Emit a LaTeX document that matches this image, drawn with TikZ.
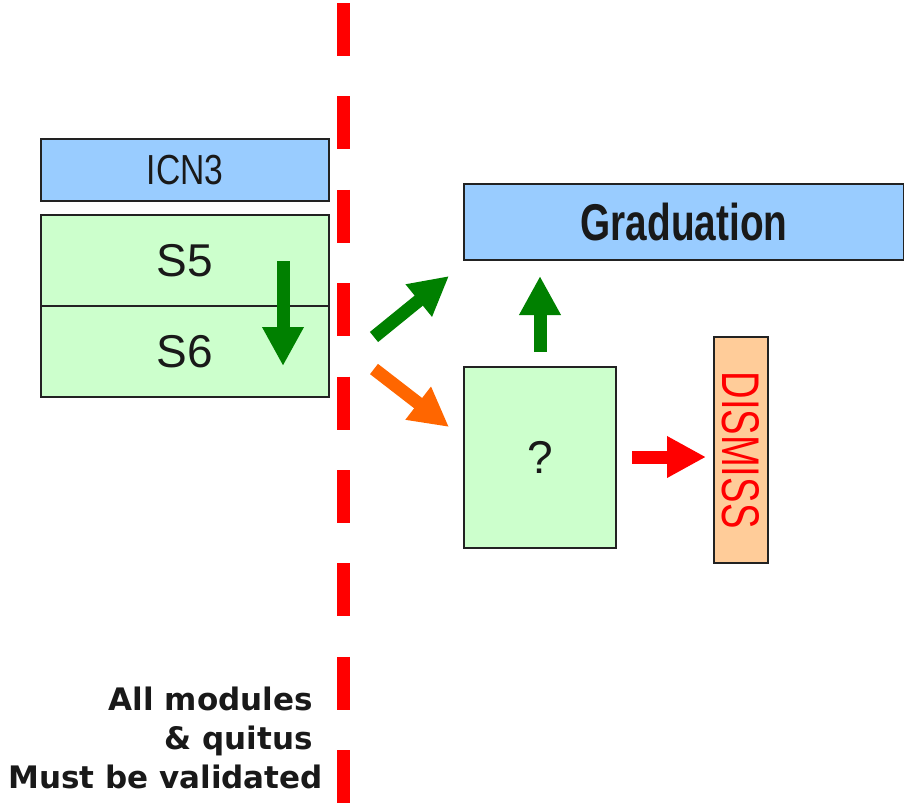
\documentclass[tikz,border=0pt]{standalone}
\usepackage{fontspec}
\usepackage{graphicx}
\setmainfont{Liberation Sans}
\newfontfamily\notefont{DejaVu Sans}
\usetikzlibrary{arrows.meta}
\definecolor{boxblue}{HTML}{99CCFF}
\definecolor{boxgreen}{HTML}{CCFFCC}
\definecolor{boxorange}{HTML}{FFCC99}
\definecolor{arrgreen}{HTML}{008000}
\definecolor{arrorange}{HTML}{FF6600}
\definecolor{arrred}{HTML}{FF0000}
\definecolor{edge}{HTML}{222222}
\tikzset{
  box/.style={draw=edge, line width=2pt, rectangle, inner sep=0pt, text=black!90},
  blockarrow/.style={line width=13pt, -{Triangle[length=39pt,width=39pt]}},
  note/.style={font=\notefont\bfseries\fontsize{31}{37}\selectfont, text=black!90, inner sep=0pt},
}
\begin{document}
\begin{tikzpicture}[x=1pt,y=-1pt]
\useasboundingbox (0,0) rectangle (904,803);
% dashed separator
\draw[arrred, line width=13pt, dash pattern=on 53pt off 40.4pt] (343.5,3) -- (343.5,803);
% left boxes
\node[box, fill=boxblue, minimum width=288pt, minimum height=62pt, font=\fontsize{42}{46}\selectfont] (icn) at (185,170) {\scalebox{0.8}[1]{ICN3}};
\node[box, fill=boxgreen, minimum width=288pt, minimum height=91pt, font=\fontsize{46}{50}\selectfont] (s5) at (185,260.5) {S5};
\node[box, fill=boxgreen, minimum width=288pt, minimum height=91pt, font=\fontsize{46}{50}\selectfont] (s6) at (185,351.5) {S6};
% right boxes
\node[box, fill=boxblue, minimum width=440pt, minimum height=76pt, font=\bfseries\fontsize{51.7}{56}\selectfont] (grad) at (684,222) {\scalebox{0.75}[1]{Graduation}};
\node[box, fill=boxgreen, minimum width=152pt, minimum height=181pt, font=\fontsize{46}{50}\selectfont] (q) at (540,457.5) {?};
\node[box, fill=boxorange, minimum width=54pt, minimum height=226pt] (dis) at (741,450) {};
\node[rotate=-90, text=arrred, inner sep=0pt, font=\fontsize{53}{56}\selectfont] (distext) at (dis.center) {\scalebox{0.72}[1]{DISMISS}};
% arrow end points
\coordinate (dA) at (283,261);
\coordinate (dB) at (283,366);
\coordinate (gA) at (374,337);
\coordinate (gB) at (449,276);
\coordinate (oA) at (374,369);
\coordinate (oB) at (449,427);
\coordinate (uA) at (540,352);
\coordinate (uB) at (540,276);
\coordinate (rA) at (632,457);
\coordinate (rB) at (706,457);
\draw[blockarrow, arrgreen] (dA) -- (dB);
\draw[blockarrow, arrgreen] (gA) -- (gB);
\draw[blockarrow, arrorange] (oA) -- (oB);
\draw[blockarrow, arrgreen] (uA) -- (uB);
\draw[blockarrow, arrred] (rA) -- (rB);
% notes
\node[note, anchor=base east] (n1) at (313,710) {All modules};
\node[note, anchor=base east] (n2) at (313,749) {\& quitus};
\node[note, anchor=base east] (n3) at (323,788) {Must be validated};
\end{tikzpicture}
\end{document}
